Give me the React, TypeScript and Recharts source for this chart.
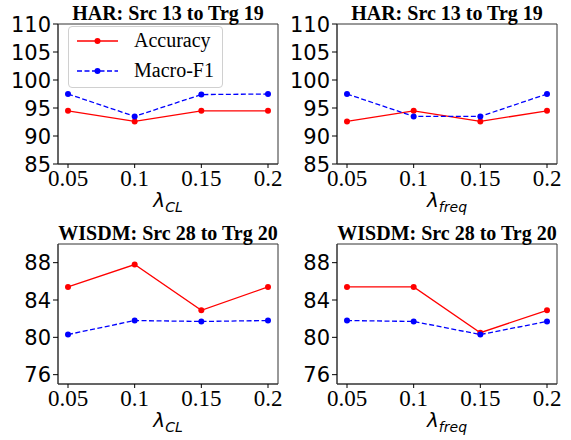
import { CartesianGrid, Legend, Line, LineChart, XAxis, YAxis, Label } from "recharts";

const lambdas = ["0.05", "0.1", "0.15", "0.2"];

const harClAcc = [94.5, 92.6, 94.5, 94.5];
const harClF1 = [97.5, 93.5, 97.4, 97.5];
const harFreqAcc = [92.6, 94.5, 92.6, 94.5];
const harFreqF1 = [97.5, 93.5, 93.5, 97.5];

const wisdmClAcc = [85.4, 87.8, 82.9, 85.4];
const wisdmClF1 = [80.3, 81.8, 81.7, 81.8];
const wisdmFreqAcc = [85.4, 85.4, 80.5, 82.9];
const wisdmFreqF1 = [81.8, 81.7, 80.3, 81.7];

const harTicks = [85, 90, 95, 100, 105, 110];
const wisdmTicks = [76, 80, 84, 88];

const series = [
  { key: "acc", name: "Accuracy", color: "#ff0000", dash: undefined as string | undefined },
  { key: "f1", name: "Macro-F1", color: "#0000ff", dash: "5 2.5" },
];

const frame = "#333";
const serif = "Liberation Serif";
const sans = "DejaVu Sans";

function rows(acc: number[], f1: number[]) {
  return lambdas.map((lam, i) => ({ lam, acc: acc[i], f1: f1[i] }));
}

function LegendBox() {
  return (
    <div
      style={{
        width: 155,
        height: 62,
        boxSizing: "border-box",
        border: "1px solid #d0d0d0",
        borderRadius: 4,
        background: "rgba(255,255,255,0.8)",
        position: "relative",
      }}
    >
      {series.map((s, i) => (
        <div
          key={s.key}
          style={{ position: "absolute", left: 8, top: 2 + i * 30, height: 23, display: "flex", alignItems: "center" }}
        >
          <svg width={41} height={8}>
            <line x1={0} x2={41} y1={4} y2={4} stroke={s.color} strokeWidth={1.3} strokeDasharray={s.dash} />
            <circle cx={20.5} cy={4} r={3} fill={s.color} />
          </svg>
          <span style={{ marginLeft: 16, fontFamily: serif, fontSize: 20, color: "#000", lineHeight: "23px" }}>
            {s.name}
          </span>
        </div>
      ))}
    </div>
  );
}

function XTick(props: any) {
  const { x, y, payload } = props;
  return (
    <text x={x} y={y} dy={17} textAnchor="middle" fontFamily={serif} fontSize={23} fill="#000">
      {payload.value}
    </text>
  );
}

function YTick(props: any) {
  const { x, y, payload } = props;
  return (
    <text x={x} y={y} dy={7.5} textAnchor="end" fontFamily={sans} fontSize={21} fill="#000">
      {payload.value}
    </text>
  );
}

function lambdaLabel(sub: string) {
  return (props: any) => {
    const vb = props.viewBox;
    return (
      <text
        x={vb.x + vb.width / 2}
        y={vb.y + 42.5}
        textAnchor="middle"
        fontFamily={sans}
        fontStyle="italic"
        fontSize={20}
        fill="#000"
      >
        λ
        <tspan fontSize={14} dy={5}>
          {sub}
        </tspan>
      </text>
    );
  };
}

type PanelProps = {
  title: string;
  sub: string;
  acc: number[];
  f1: number[];
  domain: [number, number];
  ticks: number[];
  legend?: boolean;
  left: number;
  top: number;
};

function Panel({ title, sub, acc, f1, domain, ticks, legend, left, top }: PanelProps) {
  const data = rows(acc, f1);
  return (
    <div style={{ position: "absolute", left, top, width: 290, height: 220 }}>
      <LineChart width={290} height={220} data={data} margin={{ top: 24, right: 12, bottom: 0, left: 0 }}>
        <text x={168} y={19.5} textAnchor="middle" fontFamily={serif} fontWeight="bold" fontSize={20} fill="#000">
          {title}
        </text>
        <CartesianGrid
          stroke={frame}
          horizontalCoordinatesGenerator={({ offset }: any) => [offset.top, offset.top + offset.height]}
          verticalCoordinatesGenerator={({ offset }: any) => [offset.left, offset.left + offset.width]}
        />
        <XAxis
          dataKey="lam"
          padding={{ left: 10, right: 10 }}
          height={56}
          tickSize={4}
          tickMargin={1}
          tick={<XTick />}
          tickLine={{ stroke: "#000" }}
          axisLine={{ stroke: frame }}
          interval={0}
        >
          <Label content={lambdaLabel(sub)} />
        </XAxis>
        <YAxis
          domain={domain}
          ticks={ticks}
          interval={0}
          width={58}
          tickSize={5}
          tickMargin={2}
          allowDataOverflow
          tick={<YTick />}
          tickLine={{ stroke: "#000" }}
          axisLine={{ stroke: frame }}
        />
        {series.map((s) => (
          <Line
            key={s.key}
            dataKey={s.key}
            name={s.name}
            type="linear"
            stroke={s.color}
            strokeWidth={1.3}
            strokeDasharray={s.dash}
            dot={{ r: 3, fill: s.color, stroke: "none", strokeDasharray: "" }}
            activeDot={false}
            isAnimationActive={false}
          />
        ))}
        {legend && (
          <Legend
            layout="horizontal"
            verticalAlign="middle"
            align="center"
            content={() => <LegendBox />}
            wrapperStyle={{ left: 68, top: 26, width: 155, height: 62 }}
          />
        )}
      </LineChart>
    </div>
  );
}

export default function App() {
  return (
    <div style={{ position: "absolute", left: 0, top: 0, width: 571, height: 440, background: "#fff" }}>
      <Panel title="HAR: Src 13 to Trg 19" sub="CL" acc={harClAcc} f1={harClF1} domain={[85, 110]} ticks={harTicks} legend left={0} top={0} />
      <Panel title="HAR: Src 13 to Trg 19" sub="freq" acc={harFreqAcc} f1={harFreqF1} domain={[85, 110]} ticks={harTicks} left={279} top={0} />
      <Panel title="WISDM: Src 28 to Trg 20" sub="CL" acc={wisdmClAcc} f1={wisdmClF1} domain={[75, 90]} ticks={wisdmTicks} left={0} top={220} />
      <Panel title="WISDM: Src 28 to Trg 20" sub="freq" acc={wisdmFreqAcc} f1={wisdmFreqF1} domain={[75, 90]} ticks={wisdmTicks} left={279} top={220} />
    </div>
  );
}
